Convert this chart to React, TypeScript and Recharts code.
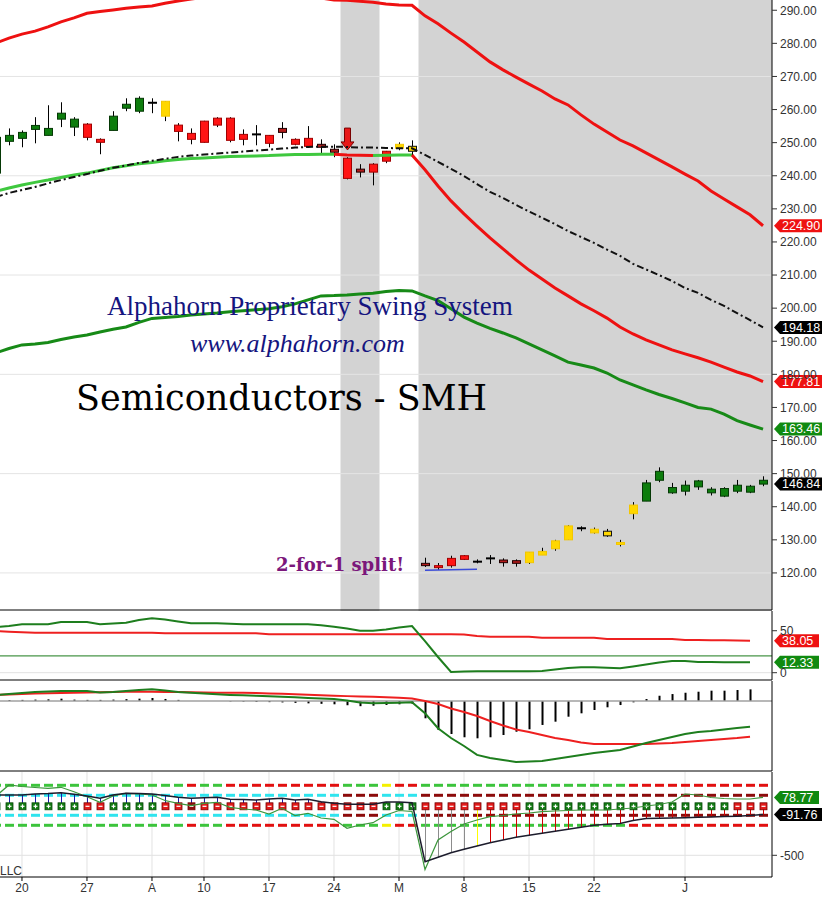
import React from 'react';
import {
  ComposedChart, Line, Bar, XAxis, YAxis, CartesianGrid,
  ReferenceLine, ReferenceArea, ReferenceDot,
} from 'recharts';

const FONT = 'Arial, "Liberation Sans", sans-serif';
const W = 822;
const AXIS_W = 50;
const X_MIN = -1.69;
const X_MAX = 57.69;
const FIRST_INDEX = -2;

// trading-day ticks (index 0 = Mar 20)
const xTicks = [0, 5, 10, 14, 19, 24, 29, 34, 39, 44, 51];
const xTickLabels = ['20', '27', 'A', '10', '17', '24', 'M', '8', '15', '22', 'J'];

// shaded (signal) spans, in trading-day index units
const shadeSpans = [[24.5, 27.5], [30.5, X_MAX]];

// ---------- price candles (index -2 .. 57) ----------
const candleSignal = ('GGGGGGG' + 'RR' + 'GGG' + 'K' + 'Y' + 'RRRRRR' + 'K' + 'R' + 'D' + 'RR' + 'DD' + 'R' + 'D' + 'RR' + 'Y' + 'B' +
  'D' + 'RRR' + 'KK' + 'DD' + 'YYYY' + 'K' + 'Y' + 'B' + 'YY' + 'GGGGGGGGGG').split('');
const candleOpen = [240.8, 250.4, 251.3, 254.0, 252.2, 257.1, 254.7, 255.6, 251.0, 253.7, 260.4, 259.5, 261.9, 258.0, 255.3, 252.8, 256.5, 257.4, 257.4, 252.5, 252.4, 252.2, 254.3, 251.0, 251.3, 249.5, 248.0, 245.3, 242.0, 243.5, 247.4, 248.3, 247.4,
  122.9, 122.2, 124.4, 125.2, 123.1, 124.2, 123.9, 123.7, 123.1, 125.4, 127.3, 130.0, 133.3, 132.1, 131.2, 128.6, 137.9, 141.7, 148.0, 144.2, 144.7, 146.0, 144.2, 143.2, 144.7, 144.4, 148.0];
const candleClose = [251.6, 252.2, 253.1, 255.2, 254.3, 258.9, 257.1, 251.6, 250.1, 258.0, 261.6, 263.4, 262.2, 262.5, 253.4, 251.0, 250.1, 255.3, 250.7, 251.0, 252.6, 249.8, 253.1, 249.5, 248.9, 248.6, 247.1, 239.2, 241.1, 241.1, 244.4, 249.5, 248.9,
  122.2, 121.6, 122.2, 124.1, 123.7, 124.6, 123.1, 122.9, 126.3, 126.5, 129.7, 134.2, 133.7, 133.2, 132.6, 129.2, 140.5, 147.2, 150.7, 145.8, 146.5, 147.8, 145.3, 145.5, 146.5, 146.2, 146.84];
const candleHigh = [252.0, 254.3, 253.7, 257.7, 261.3, 262.2, 257.7, 255.9, 251.3, 259.5, 263.4, 264.0, 263.4, 262.5, 255.9, 254.3, 256.6, 257.7, 257.7, 254.0, 255.3, 252.3, 256.2, 251.3, 255.0, 251.0, 249.5, 245.6, 243.5, 243.8, 247.5, 250.1, 250.7,
  124.6, 123.0, 125.2, 125.4, 124.1, 125.4, 124.4, 124.1, 126.3, 127.6, 130.0, 134.4, 134.1, 133.7, 133.3, 130.0, 141.4, 148.1, 151.9, 147.2, 147.9, 148.1, 145.9, 145.9, 148.1, 146.6, 149.2];
const candleLow = [240.5, 249.2, 248.6, 249.8, 252.2, 254.7, 252.0, 250.7, 246.5, 253.7, 259.5, 258.9, 258.9, 256.5, 250.4, 249.5, 250.0, 254.7, 250.1, 249.2, 249.2, 248.6, 251.3, 249.2, 248.9, 246.8, 245.6, 238.9, 239.5, 237.1, 243.8, 247.7, 246.2,
  121.8, 120.9, 121.6, 123.9, 122.9, 122.7, 121.9, 121.9, 122.7, 125.4, 126.7, 130.0, 132.6, 131.9, 130.9, 128.0, 136.2, 141.7, 147.4, 143.9, 143.4, 145.1, 143.4, 142.9, 144.1, 144.1, 146.2];

const ARROW_INDEX = 25;
const ARROW_TOP = 254.4;
const ARROW_TIP = 247.8;

// ---------- overlay lines, main panel ----------
const upperBand = [280.1, 281.6, 282.8, 283.7, 285.0, 286.5, 287.7, 289.1, 289.6, 290.1, 290.6, 291.0, 291.3, 292.1, 292.8, 293.4, 293.9, 294.3, 294.7, 295.0, 295.2, 295.3, 295.2, 294.9, 294.4, 293.7, 293.1, 293.0, 292.7, 292.4, 291.9, 291.6, 291.5,
  288.3, 285.9, 283.1, 280.4, 277.4, 274.4, 272.0, 269.8, 267.7, 265.6, 263.2, 261.4, 258.4, 255.6, 253.2, 250.8, 249.0, 246.9, 244.8, 242.7, 240.5, 238.4, 235.4, 233.0, 230.6, 228.2, 224.90];
const dashDot = [233.6, 234.8, 235.7, 236.6, 237.7, 238.7, 239.6, 240.5, 241.5, 242.4, 243.1, 243.9, 244.5, 245.1, 245.7, 246.1, 246.4, 246.7, 247.0, 247.3, 247.6, 247.9, 248.2, 248.5, 248.7, 248.8, 248.8, 248.7, 248.5, 248.5, 248.4, 248.3, 248.3,
  246.3, 244.2, 242.1, 239.9, 237.5, 235.1, 233.3, 231.2, 229.2, 227.3, 225.4, 223.3, 221.5, 219.7, 217.7, 215.8, 213.4, 211.7, 210.0, 208.2, 206.1, 204.6, 202.5, 200.7, 198.5, 196.4, 194.18];
const midLine = [235.3, 236.3, 237.2, 238.0, 238.7, 239.5, 240.2, 240.8, 241.6, 242.4, 243.0, 243.6, 244.0, 244.5, 244.9, 245.2, 245.4, 245.6, 245.8, 245.9, 246.0, 246.1, 246.3, 246.4, 246.4, 246.5, 246.5, 246.3, 246.2, 246.1, 246.2, 246.3, 246.3,
  241.8, 236.9, 232.4, 228.5, 224.8, 221.2, 217.9, 214.6, 211.5, 208.8, 206.1, 203.7, 201.3, 199.2, 197.0, 194.3, 192.2, 190.4, 188.9, 187.4, 186.2, 185.0, 183.7, 182.2, 180.7, 179.5, 177.81];
const midState = ('G'.repeat(27) + 'RRR' + 'GGG' + 'R'.repeat(27)).split('');
const lowerBand = [186.5, 187.8, 188.9, 189.2, 189.6, 190.5, 191.3, 191.9, 192.8, 193.6, 194.3, 195.7, 196.9, 197.2, 197.5, 197.9, 198.2, 198.5, 198.9, 199.2, 199.5, 199.8, 200.4, 201.3, 202.5, 203.7, 203.8, 204.0, 204.3, 204.5, 205.0, 205.3, 205.2,
  203.7, 202.3, 199.8, 197.3, 195.5, 193.9, 192.5, 191.0, 189.2, 187.4, 185.6, 183.7, 182.8, 181.9, 180.4, 178.3, 176.8, 175.3, 173.9, 172.7, 171.4, 170.0, 169.5, 168.0, 166.0, 164.7, 163.46];

const priceTicks = [120, 130, 140, 150, 160, 170, 180, 190, 200, 210, 220, 230, 240, 250, 260, 270, 280, 290];
const priceGrid = [120, 150, 180, 210, 240, 270];
const PRICE_DOMAIN = [108.8, 293.1];

// ---------- panel 2 ----------
const p2Green = [54.4, 55.6, 57.6, 57.6, 57.6, 60.4, 60.4, 60.4, 57.6, 58.6, 59.5, 62.7, 64.8, 63.3, 61.0, 58.8, 58.8, 58.8, 58.2, 57.6, 57.6, 57.6, 57.6, 57.6, 57.6, 56.4, 54.8, 52.6, 50.0, 50.0, 51.4, 53.8, 55.6,
  37.7, 18.7, 0.8, 1.4, 1.7, 1.7, 1.7, 1.7, 1.7, 2.0, 3.8, 5.6, 6.4, 6.4, 5.8, 5.2, 7.4, 9.8, 12.1, 13.9, 13.9, 12.8, 12.6, 12.5, 12.4, 12.33, null];
const p2Red = [49.6, 48.9, 48.2, 47.6, 47.6, 47.6, 47.6, 47.6, 47.6, 47.6, 47.6, 47.6, 47.6, 46.9, 46.9, 46.9, 46.9, 46.9, 46.9, 46.9, 46.9, 45.7, 45.7, 45.7, 45.7, 45.7, 45.7, 45.7, 45.7, 45.7, 45.7, 45.7, 45.7,
  45.7, 45.7, 45.7, 45.4, 43.7, 42.9, 42.9, 42.9, 42.9, 41.7, 41.7, 41.7, 41.7, 41.7, 40.1, 40.1, 40.1, 40.1, 40.1, 40.1, 39.0, 38.9, 38.8, 38.7, 38.5, 38.05, null];
const P2_LEVEL = 20;

// ---------- panel 3 ----------
const p3Green = [0.64, 0.74, 0.85, 0.96, 1.01, 1.06, 1.06, 1.06, 0.90, 0.96, 1.06, 1.17, 1.24, 1.12, 0.96, 0.88, 0.80, 0.71, 0.64, 0.60, 0.55, 0.51, 0.46, 0.39, 0.32, 0.27, 0.21, 0.05, -0.16, -0.24, -0.21, -0.18, -0.14,
  -1.31, -2.90, -3.94, -4.79, -5.74, -6.06, -6.28, -6.49, -6.44, -6.38, -6.17, -5.96, -5.74, -5.53, -5.37, -5.21, -4.84, -4.47, -4.15, -3.83, -3.51, -3.30, -3.19, -3.03, -2.87, -2.73, null];
const p3Red = [0.64, 0.69, 0.74, 0.80, 0.83, 0.85, 0.88, 0.91, 0.94, 0.96, 0.98, 0.99, 0.99, 0.97, 0.95, 0.93, 0.90, 0.89, 0.88, 0.87, 0.84, 0.80, 0.77, 0.72, 0.67, 0.62, 0.56, 0.52, 0.48, 0.45, 0.40, 0.36, 0.27,
  0, -0.32, -0.80, -1.17, -1.60, -2.13, -2.61, -3.03, -3.30, -3.62, -3.94, -4.15, -4.41, -4.57, -4.57, -4.57, -4.57, -4.57, -4.52, -4.47, -4.36, -4.26, -4.15, -4.04, -3.94, -3.80, null];
const p3Hist = [0, 0.1, 0.12, 0.15, 0.18, 0.25, 0.15, 0.12, 0.12, 0.15, 0.2, 0.25, 0.32, 0.22, 0.12, 0, 0, 0, -0.05, -0.07, -0.1, -0.12, -0.15, -0.2, -0.25, -0.3, -0.35, -0.45, -0.55, -0.5, -0.42, -0.35, -0.3,
  -1.84, -3.09, -3.51, -3.86, -3.97, -3.86, -3.62, -3.27, -3.01, -2.55, -2.20, -1.67, -1.31, -0.96, -0.67, -0.43, -0.14, 0.21, 0.56, 0.74, 0.88, 0.99, 1.10, 1.10, 1.17, 1.24, null];

// ---------- panel 4 ----------
const p4Black = [103, 103, 103, 113, 118, 126, 110, 93, 70, 103, 120, 118, 113, 98, 80, 70, 75, 80, 60, 58, 53, 63, 70, 53, 60, 36, 20, 10, 10, 10, 33, 33, 26,
  -564, -520, -474, -440, -407, -374, -347, -320, -300, -280, -260, -240, -220, -200, -190, -182, -152, -132, -130, -127, -124, -120, -117, -113, -109, -103, -91.76];
const p4Green = [93, 203, 188, 178, 170, 180, 136, 86, 30, 93, 120, 113, 103, 48, 20, -4, 20, 30, -20, -37, -47, -87, -30, -102, -80, -127, -140, -230, -197, -174, -97, -52, -62,
  -642, -347, -262, -187, -147, -114, -102, -87, -77, -64, -57, -52, -47, -47, -47, -37, -27, -7, 8, 33, 113, 103, 78, 68, 63, 63, 78.77];
const p4Marker = ('+++++++' + '--' + '++++' + '--' + 'd' + '--------------' + '+++' + '--------' + '++++++++++++++++' + '---').split('');
const p4Outer = ('GGGGGGGGGGGGGGG' + 'R' + 'GG' + 'RRRRRRRRR' + 'GGG' + 'Y' + 'RR' + 'GGGGGGGGGGGGGGGG' + 'RRRRRRRRRRR').split('');
const p4Inner = ('C'.repeat(27) + 'DDD' + 'CCC' + 'D'.repeat(27)).split('');
const p4Stem = ('B'.repeat(33) + 'NNNN' + 'Y' + 'R'.repeat(22)).split('');
const P4_LEVELS = [200, 100, -100, -200];

// ---------- build rows ----------
const idx = candleSignal.map((_, k) => FIRST_INDEX + k);
const mainData = idx.map((i, k) => ({
  i,
  open: candleOpen[k], close: candleClose[k], high: candleHigh[k], low: candleLow[k], sig: candleSignal[k],
  upper: upperBand[k], dashDot: dashDot[k], lower: lowerBand[k],
  midG: midState[k] === 'G' || midState[k + 1] === 'G' ? midLine[k] : null,
  midR: midState[k] === 'R' || midState[k + 1] === 'R' ? midLine[k] : null,
}));
const p2Data = idx.map((i, k) => ({ i, green: p2Green[k], red: p2Red[k] }));
const p3Data = idx.map((i, k) => ({ i, green: p3Green[k], red: p3Red[k], hist: p3Hist[k] }));
const p4Data = idx.map((i, k) => ({
  i, black: p4Black[k], green: p4Green[k], marker: p4Marker[k], outer: p4Outer[k], inner: p4Inner[k], stem: p4Stem[k],
}));

// ---------- styles ----------
const CANDLE_STYLE: Record<string, { fill: string; stroke: string }> = {
  G: { fill: '#0d7d0d', stroke: '#053805' },
  R: { fill: '#ff1414', stroke: '#a00000' },
  D: { fill: '#b31b1b', stroke: '#200000' },
  Y: { fill: '#ffd700', stroke: '#f2c600' },
  B: { fill: '#ffd700', stroke: '#111111' },
  K: { fill: '#000000', stroke: '#000000' },
};
const DASH_COLOR: Record<string, string> = { G: '#3cc43c', R: '#e21010', Y: '#f4f000', C: '#2fe4ee', D: '#8c0b0b' };
const STEM_COLOR: Record<string, string> = { B: '#1b1ba8', N: '#8c8c8c', Y: '#ffff00', R: '#d40000' };

function CandleShape(props: any) {
  const { x, y, width, height, payload } = props;
  if (!payload || !Number.isFinite(y) || !Number.isFinite(height)) return <g />;
  const span = payload.high - payload.low;
  const top = height >= 0 ? y : y + height;
  const h = Math.abs(height);
  const ppu = span > 0 ? h / span : 0;
  const py = (v: number) => top + (payload.high - v) * ppu;
  const cx = Math.round(x + width / 2);
  const st = CANDLE_STYLE[payload.sig];
  const bTop = py(Math.max(payload.open, payload.close));
  const bBot = py(Math.min(payload.open, payload.close));
  const parts: any[] = [];
  parts.push(<line key="w" x1={cx + 0.5} x2={cx + 0.5} y1={top} y2={top + h} stroke="#000" strokeWidth={1} />);
  if (payload.sig === 'K') {
    parts.push(<rect key="b" x={cx - 4} y={(bTop + bBot) / 2 - 1} width={9} height={2} fill="#000" />);
  } else {
    const bh = Math.max(bBot - bTop, 2);
    parts.push(<rect key="b" x={cx - 3.5} y={bTop} width={8} height={bh} fill={st.fill} stroke={st.stroke} strokeWidth={1} />);
  }
  if (payload.i === ARROW_INDEX) {
    const yt = py(ARROW_TOP);
    const yp = py(ARROW_TIP);
    const hy = yp - 8;
    parts.push(
      <polygon key="a"
        points={`${cx - 2.5},${yt} ${cx + 3.5},${yt} ${cx + 3.5},${hy} ${cx + 7},${hy} ${cx + 0.5},${yp} ${cx - 6},${hy} ${cx - 2.5},${hy}`}
        fill="#e81818" stroke="#7a0000" strokeWidth={1} />
    );
  }
  return <g>{parts}</g>;
}

const FRAME_HI = 200;
const FRAME_LO = -200;
function OscShape(props: any) {
  const { x, y, width, height, payload } = props;
  if (!payload || !Number.isFinite(y) || !Number.isFinite(height)) return <g />;
  const top = height >= 0 ? y : y + height;
  const h = Math.abs(height);
  const ppu = h / (FRAME_HI - FRAME_LO);
  const py = (v: number) => top + (FRAME_HI - v) * ppu;
  const cx = Math.round(x + width / 2) + 0.5;
  const y0 = py(0);
  const parts: any[] = [];
  P4_LEVELS.forEach((lv, n) => {
    const c = Math.abs(lv) === 200 ? DASH_COLOR[payload.outer] : DASH_COLOR[payload.inner];
    parts.push(<line key={'d' + n} x1={cx - 4.5} x2={cx + 4.5} y1={py(lv)} y2={py(lv)} stroke={c} strokeWidth={3} />);
  });
  parts.push(<line key="s" x1={cx} x2={cx} y1={y0} y2={py(payload.black)} stroke={STEM_COLOR[payload.stem]} strokeWidth={1} />);
  const mFill = payload.marker === '+' ? '#137c13' : payload.marker === 'd' ? '#8a1010' : '#e21a1a';
  const mStroke = payload.marker === '+' ? '#0a4a0a' : '#7a0000';
  parts.push(<rect key="m" x={cx - 3.5} y={y0 - 2.5} width={7} height={7} fill={mFill} stroke={mStroke} strokeWidth={0.8} />);
  parts.push(<line key="mh" x1={cx - 2} x2={cx + 2} y1={y0 + 1} y2={y0 + 1} stroke="#fff" strokeWidth={1.2} />);
  if (payload.marker === '+') {
    parts.push(<line key="mv" x1={cx} x2={cx} y1={y0 - 1} y2={y0 + 3} stroke="#fff" strokeWidth={1.2} />);
  }
  return <g>{parts}</g>;
}

function tagShape(text: string, bg: string) {
  return (p: any) => {
    const { cx, cy } = p;
    const x0 = cx + 2;
    const w = 12 + text.length * 6.6;
    const h = 13;
    return (
      <g>
        <polygon points={`${x0},${cy} ${x0 + 6},${cy - h / 2} ${x0 + w},${cy - h / 2} ${x0 + w},${cy + h / 2} ${x0 + 6},${cy + h / 2}`} fill={bg} />
        <text x={x0 + 8} y={cy + 4.4} fill="#fff" fontSize={12.5} fontFamily={FONT}>{text}</text>
      </g>
    );
  };
}

const last = (a: (number | null)[]) => {
  for (let k = a.length - 1; k >= 0; k--) if (a[k] != null) return a[k] as number;
  return 0;
};

const mainTags = [
  { v: last(upperBand), bg: '#ee1111' },
  { v: last(dashDot), bg: '#000000' },
  { v: last(midLine), bg: '#ee1111' },
  { v: last(lowerBand), bg: '#108a10' },
  { v: last(candleClose), bg: '#000000' },
];

const xAxisBorder = (
  <XAxis type="number" dataKey="i" domain={[X_MIN, X_MAX]} ticks={xTicks} allowDataOverflow
    tick={false} tickLine={false} axisLine={{ stroke: '#000' }} height={1} />
);
const margin = { top: 0, right: 0, bottom: 0, left: 0 };
const tickStyle = { fontSize: 12, fill: '#333', fontFamily: FONT };

export default function App() {
  return (
    <div style={{ position: 'absolute', left: 0, top: 0, width: W, height: 906, background: '#fff', fontFamily: FONT }}>
      {/* main price panel: shading layer below, chart layer on top */}
      <div style={{ position: 'relative', width: W, height: 611 }}>
        <div style={{ position: 'absolute', left: 0, top: 0 }}>
          <ComposedChart width={W} height={611} data={mainData} margin={margin}>
            <XAxis type="number" dataKey="i" domain={[X_MIN, X_MAX]} allowDataOverflow hide height={1} />
            <YAxis orientation="right" width={AXIS_W} domain={PRICE_DOMAIN} allowDataOverflow tick={false} tickLine={false} axisLine={false} />
            {shadeSpans.map((s, n) => (
              <ReferenceArea key={n} x1={s[0]} x2={s[1]} fill="#d3d3d3" fillOpacity={1} stroke="none" />
            ))}
          </ComposedChart>
        </div>
        <div style={{ position: 'absolute', left: 0, top: 0 }}>
          <ComposedChart width={W} height={611} data={mainData} margin={margin}>
            <CartesianGrid stroke="#e4e4e4" verticalValues={xTicks} horizontalValues={priceGrid} />
            {xAxisBorder}
            <YAxis orientation="right" width={AXIS_W} domain={PRICE_DOMAIN} ticks={priceTicks} interval={0} allowDataOverflow
              tickFormatter={(v: number) => v.toFixed(2)} tick={tickStyle} tickLine={{ stroke: '#333' }} tickSize={5} tickMargin={3}
              axisLine={{ stroke: '#000' }} />
            <Line dataKey="upper" stroke="#ee1111" strokeWidth={3} dot={false} isAnimationActive={false} />
            <Line dataKey="lower" stroke="#178a17" strokeWidth={3} dot={false} isAnimationActive={false} />
            <Line dataKey="midG" stroke="#3fc83f" strokeWidth={3} dot={false} isAnimationActive={false} />
            <Line dataKey="midR" stroke="#ee1111" strokeWidth={3} dot={false} isAnimationActive={false} />
            <Line dataKey="dashDot" stroke="#111" strokeWidth={2} strokeDasharray="7 3 2 3" dot={false} isAnimationActive={false} />
            <Bar dataKey={(d: any) => [d.low, d.high]} barSize={9} shape={CandleShape} isAnimationActive={false} />
            <ReferenceLine segment={[{ x: 31, y: 120.8 }, { x: 35, y: 121.1 }]} stroke="#3a4bd8" strokeWidth={1.5} />
            {mainTags.map((t, n) => (
              <ReferenceDot key={n} x={X_MAX} y={t.v} ifOverflow="visible" shape={tagShape(t.v.toFixed(2), t.bg)} />
            ))}
          </ComposedChart>
        </div>
      </div>

      {/* panel 2 */}
      <ComposedChart width={W} height={70} data={p2Data} margin={margin}>
        <CartesianGrid stroke="#e2e2e2" verticalValues={xTicks} horizontalValues={[0]} />
        {xAxisBorder}
        <YAxis orientation="right" width={AXIS_W} domain={[-8.7, 73.5]} ticks={[0, 50]} interval={0} allowDataOverflow
          tick={tickStyle} tickLine={{ stroke: '#333' }} tickSize={5} tickMargin={3} axisLine={{ stroke: '#000' }} />
        <ReferenceLine y={P2_LEVEL} stroke="#1a7a1a" strokeWidth={1} />
        <Line dataKey="red" stroke="#ee2020" strokeWidth={2} dot={false} isAnimationActive={false} />
        <Line dataKey="green" stroke="#1e7e1e" strokeWidth={2} dot={false} isAnimationActive={false} />
        <ReferenceDot x={X_MAX} y={last(p2Red)} ifOverflow="visible" shape={tagShape(last(p2Red).toFixed(2), '#ee1111')} />
        <ReferenceDot x={X_MAX} y={last(p2Green)} ifOverflow="visible" shape={tagShape(last(p2Green).toFixed(2), '#108a10')} />
      </ComposedChart>

      {/* panel 3 */}
      <ComposedChart width={W} height={91} data={p3Data} margin={margin}>
        <CartesianGrid stroke="#e2e2e2" verticalValues={xTicks} horizontalValues={[-5]} />
        {xAxisBorder}
        <YAxis orientation="right" width={AXIS_W} domain={[-7.45, 2.13]} allowDataOverflow tick={false} tickLine={false}
          axisLine={{ stroke: '#000' }} />
        <ReferenceLine y={0} stroke="#a0a0a0" strokeWidth={1.5} />
        <Bar dataKey="hist" barSize={2} fill="#000" isAnimationActive={false} />
        <Line dataKey="red" stroke="#ee2020" strokeWidth={2} dot={false} isAnimationActive={false} />
        <Line dataKey="green" stroke="#1e7e1e" strokeWidth={2} dot={false} isAnimationActive={false} />
      </ComposedChart>

      {/* panel 4 */}
      <ComposedChart width={W} height={134} data={p4Data} margin={margin}>
        <CartesianGrid stroke="#e2e2e2" verticalValues={xTicks} horizontalValues={[-500]} />
        <XAxis type="number" dataKey="i" domain={[X_MIN, X_MAX]} ticks={xTicks} interval={0} allowDataOverflow height={29}
          tickFormatter={(v: number) => xTickLabels[xTicks.indexOf(v)]} tick={tickStyle}
          tickLine={{ stroke: '#000' }} tickSize={4} axisLine={{ stroke: '#000' }} />
        <YAxis orientation="right" width={AXIS_W} domain={[-717, 333]} ticks={[-500]} interval={0} allowDataOverflow
          tick={tickStyle} tickLine={{ stroke: '#333' }} tickSize={5} tickMargin={3} axisLine={{ stroke: '#000' }} />
        <Bar dataKey={() => [FRAME_LO, FRAME_HI]} barSize={9} shape={OscShape} isAnimationActive={false} />
        <Line dataKey="green" stroke="#3c963c" strokeWidth={1.2} dot={false} isAnimationActive={false} />
        <Line dataKey="black" stroke="#1c1c2c" strokeWidth={1.5} dot={false} isAnimationActive={false} />
        <ReferenceDot x={X_MAX} y={last(p4Green)} ifOverflow="visible" shape={tagShape(last(p4Green).toFixed(2), '#108a10')} />
        <ReferenceDot x={X_MAX} y={last(p4Black)} ifOverflow="visible" shape={tagShape(last(p4Black).toFixed(2), '#000000')} />
      </ComposedChart>

      {/* annotation texts */}
      <svg width={W} height={906} style={{ position: 'absolute', left: 0, top: 0, pointerEvents: 'none' }}>
        <text x={107} y={315} fontFamily='"Liberation Serif", "Times New Roman", serif' fontSize={27} fill="#15157f">
          Alphahorn Proprietary Swing System
        </text>
        <text x={190} y={352} fontFamily='"Liberation Serif", "Times New Roman", serif' fontStyle="italic" fontSize={26} fill="#15157f">
          www.alphahorn.com
        </text>
        <text x={76} y={410} fontFamily='"DejaVu Serif", serif' fontSize={35} fill="#000">
          Semiconductors - SMH
        </text>
        <text x={276} y={571} fontFamily='"DejaVu Serif", serif' fontWeight="bold" fontSize={18} fill="#7b177b">
          2-for-1 split!
        </text>
        <text x={0} y={875} fontFamily={FONT} fontSize={12} fill="#333">LLC</text>
      </svg>
    </div>
  );
}
